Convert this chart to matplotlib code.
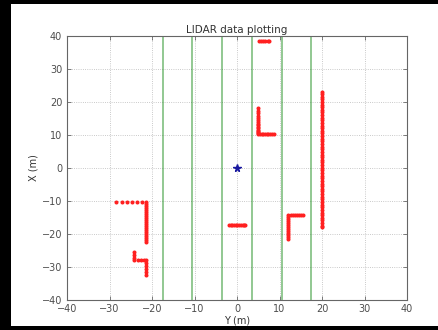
import matplotlib
matplotlib.use("Agg")
import matplotlib.pyplot as plt
from matplotlib.patches import Rectangle

# lane boundaries (lateral position Y, m)
lane_y = [-17.5, -10.5, -3.5, 3.5, 10.5, 17.5]

# LIDAR returns, one list pair per cluster: (Y values, X values)
top_y = [5.2, 5.7, 6.2, 6.7, 7.2, 7.6]
top_x = [38.6, 38.6, 38.6, 38.6, 38.6, 38.6]

ell_y = [5.0, 5.0, 5.0, 5.0, 5.0, 5.0, 5.0, 5.0, 5.0, 5.0, 5.0, 5.0, 5.0, 5.0, 5.0, 5.0,
         5.4, 5.8, 6.2, 6.6, 7.0, 7.4, 7.8, 8.2, 8.6]
ell_x = [18.2, 17.3, 16.5, 15.8, 15.1, 14.5, 13.9, 13.4, 12.9, 12.4, 12.0, 11.6, 11.2, 10.8, 10.4, 10.1,
         10.1, 10.1, 10.1, 10.1, 10.1, 10.1, 10.1, 10.1, 10.1]

mid_y = [-1.9, -1.5, -1.1, -0.7, -0.3, 0.1, 0.5, 0.9, 1.3, 1.7, 1.9]
mid_x = [-17.3, -17.3, -17.3, -17.3, -17.3, -17.3, -17.3, -17.3, -17.3, -17.3, -17.3]

left_y = [-28.5, -27.0, -25.8, -24.6, -23.5, -22.3, -21.4,
          -21.4, -21.4, -21.4, -21.4, -21.4, -21.4, -21.4, -21.4, -21.4, -21.4,
          -21.4, -21.4, -21.4, -21.4, -21.4, -21.4, -21.4, -21.4, -21.4, -21.4]
left_x = [-10.5, -10.5, -10.5, -10.5, -10.5, -10.5, -10.5,
          -11.1, -11.7, -12.3, -12.9, -13.5, -14.1, -14.7, -15.3, -15.9, -16.5,
          -17.1, -17.7, -18.3, -18.9, -19.5, -20.1, -20.7, -21.3, -21.9, -22.5]

low_y = [-24.2, -24.2, -24.2, -24.2, -23.4, -22.6, -21.8,
         -21.4, -21.4, -21.4, -21.4, -21.4, -21.4]
low_x = [-25.7, -26.5, -27.3, -28.0, -28.0, -28.0, -28.0,
         -28.0, -28.9, -29.8, -30.7, -31.6, -32.5]

right_y = [12.1, 12.6, 13.1, 13.6, 14.1, 14.6, 15.1, 15.6,
           12.1, 12.1, 12.1, 12.1, 12.1, 12.1, 12.1, 12.1, 12.1, 12.1, 12.1, 12.1]
right_x = [-14.4, -14.4, -14.4, -14.4, -14.4, -14.4, -14.4, -14.4,
           -15.0, -15.6, -16.2, -16.8, -17.4, -18.0, -18.6, -19.2, -19.8, -20.4, -21.0, -21.6]

wall_x = [23.1, 22.4, 21.6, 20.8, 20.0, 19.2, 18.4, 17.6, 16.8, 16.0, 15.2, 14.4, 13.6,
          12.8, 12.0, 11.2, 10.4, 9.6, 8.8, 8.0, 7.2, 6.4, 5.6, 4.8, 4.0, 3.2, 2.4, 1.6,
          0.8, 0.0, -0.8, -1.6, -2.4, -3.2, -4.0, -4.8, -5.6, -6.4, -7.2, -8.0, -8.8,
          -9.6, -10.4, -11.2, -12.0, -12.8, -13.6, -14.4, -15.2, -16.0, -16.8, -17.6, -18.0]
wall_y = [20.0] * len(wall_x)

# ego vehicle
ego_y = [0]
ego_x = [0]

clusters = [(top_y, top_x), (ell_y, ell_x), (mid_y, mid_x), (left_y, left_x),
            (low_y, low_x), (right_y, right_x), (wall_y, wall_x)]

fig = plt.figure(figsize=(4.38, 3.30), dpi=100)
fig.patch.set_facecolor('black')
bg = Rectangle((11/438, 4/330), 1 - 11/438, 322/330, transform=fig.transFigure,
               facecolor='white', edgecolor='none', zorder=-10)
fig.patches.append(bg)
ax = fig.add_axes([67/438, 30.5/330, 340/438, 263.5/330])

for y in lane_y:
    ax.axvline(y, color='g', alpha=0.5, lw=1.2)
for ys, xs in clusters:
    ax.plot(ys, xs, '.', color='#ff2020', markersize=3.8)
ax.plot(ego_y, ego_x, '*', color='#1a1aa0', markersize=5.5)

ax.set_xlim(-40, 40)
ax.set_ylim(-40, 40)
ax.set_xticks(range(-40, 41, 10))
ax.set_yticks(range(-40, 41, 10))
ax.grid(True, linestyle=':', color='0.72', lw=0.6)
ax.tick_params(direction='in', labelsize=7, length=3, width=0.5, top=True, right=True,
               colors='0.3')
for s in ax.spines.values():
    s.set_color('0.4')
ax.set_title('LIDAR data plotting', fontsize=7.5, pad=2, color='0.2')
ax.set_xlabel('Y (m)', fontsize=7, labelpad=1, color='0.2')
ax.set_ylabel('X (m)', fontsize=7, labelpad=2, color='0.2')

fig.savefig('out.png', dpi=100, facecolor=fig.get_facecolor())
